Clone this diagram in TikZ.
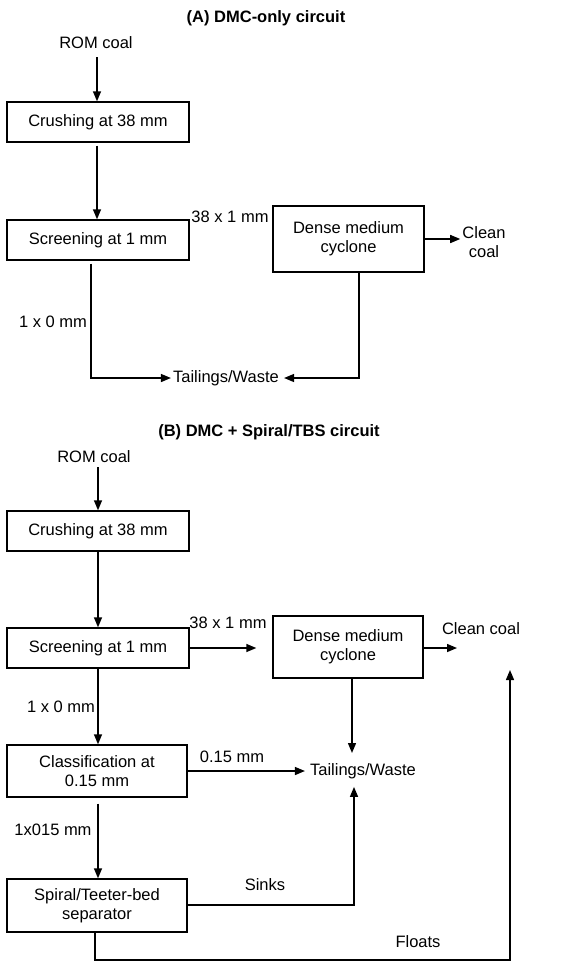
\documentclass[tikz,border=0pt]{standalone}
\usepackage{fontspec}
\setmainfont{Liberation Sans}
\usetikzlibrary{arrows.meta}
\begin{document}
\begin{tikzpicture}[x=1pt,y=-1pt,
  every node/.style={font=\fontsize{16.5}{19}\selectfont, inner sep=2pt},
  box/.style={draw, line width=1.4pt, inner sep=0pt, align=center},
  conn/.style={line width=1.4pt},
  arr/.style={conn, -{Triangle[length=10pt,width=8pt]}},
  ttl/.style={font=\fontsize{16.5}{19}\selectfont\bfseries}]
\useasboundingbox (0,0) rectangle (586,962);

% ---------- (A) ----------
\node[ttl] (titleA) at (266,18) {(A) DMC-only circuit};
\node (romA) at (96,43) {ROM coal};
\node[box, minimum width=182pt, minimum height=40pt] (crushA) at (98,122) {Crushing at 38 mm};
\node[box, minimum width=182pt, minimum height=40pt] (screenA) at (98,240) {Screening at 1 mm};
\node[box, minimum width=151pt, minimum height=66pt] (dmcA) at (348.5,239) {Dense medium\\cyclone};
\node[align=center] (cleanA) at (484,242) {Clean\\coal};
\node (tailA) at (226,378) {Tailings/Waste};
\node (l38A) at (230,217) {38 x 1 mm};
\node (l10A) at (53,322) {1 x 0 mm};
\coordinate (xA) at (97,0);
\coordinate (jA1) at (91,378);
\coordinate (jA2) at (359,378);

\draw[arr, shorten <=6pt] (romA.south -| xA) -- (crushA.north -| xA);
\draw[arr, shorten <=3pt] (crushA.south -| xA) -- (screenA.north -| xA);
\draw[arr] (dmcA.east) -- (dmcA.east -| cleanA.west);
\draw[arr, shorten <=3pt] (screenA.south -| jA1) -- (jA1) -- (tailA.west);
\draw[arr, shorten >=3pt] (dmcA.south -| jA2) -- (jA2) -- (tailA.east);

% ---------- (B) ----------
\node[ttl] (titleB) at (269,432) {(B) DMC + Spiral/TBS circuit};
\node (romB) at (94,457) {ROM coal};
\node[box, minimum width=182pt, minimum height=40pt] (crushB) at (98,531) {Crushing at 38 mm};
\node[box, minimum width=182pt, minimum height=40pt] (screenB) at (98,648) {Screening at 1 mm};
\node[box, minimum width=150pt, minimum height=62pt] (dmcB) at (348,647) {Dense medium\\cyclone};
\node (cleanB) at (481,629) {Clean coal};
\node (l38B) at (228,623) {38 x 1 mm};
\node (l10B) at (61,707) {1 x 0 mm};
\node[box, minimum width=180pt, minimum height=52pt] (classB) at (97,771) {Classification at\\0.15 mm};
\node (l015) at (232,757) {0.15 mm};
\node (tailB) at (363,771) {Tailings/Waste};
\node (l1x015) at (53,830) {1x015 mm};
\node[box, minimum width=180pt, minimum height=53pt] (spiralB) at (97,905.5) {Spiral/Teeter-bed\\separator};
\node (sinks) at (265,885) {Sinks};
\node (floats) at (418,942) {Floats};
\coordinate (xB) at (98,0);
\coordinate (cB) at (457,648);
\coordinate (tB1) at (352,753);
\coordinate (sk) at (354,905);
\coordinate (fl1) at (95,960);
\coordinate (fl2) at (510,960);
\coordinate (fl3) at (510,670);

\draw[arr, shorten <=2pt] (romB.south -| xB) -- (crushB.north -| xB);
\draw[arr] (crushB.south -| xB) -- (screenB.north -| xB);
\draw[arr, shorten >=16pt] (screenB.east) -- (screenB.east -| dmcB.west);
\draw[arr] (dmcB.east |- cB) -- (cB);
\draw[arr] (dmcB.south -| tB1) -- (tB1);
\draw[arr] (screenB.south -| xB) -- (classB.north -| xB);
\draw[arr, shorten >=3pt] (classB.east) -- (tailB.west);
\draw[arr, shorten <=6pt] (classB.south -| xB) -- (spiralB.north -| xB);
\draw[arr, shorten >=6pt] (spiralB.east |- sk) -- (sk) -- (sk |- tailB.south);
\draw[arr] (spiralB.south -| fl1) -- (fl1) -- (fl2) -- (fl3);
\end{tikzpicture}
\end{document}
